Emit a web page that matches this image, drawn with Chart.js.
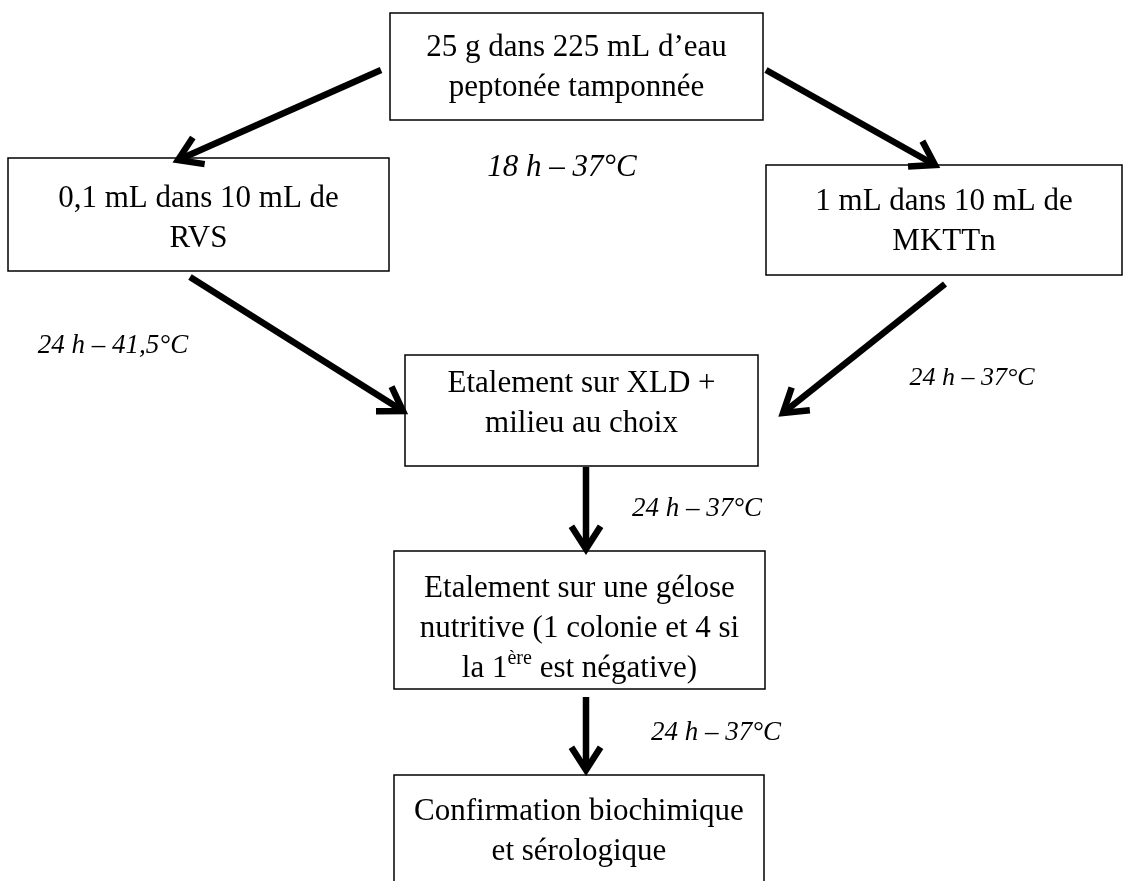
<!DOCTYPE html>
<html>
<head>
<meta charset="utf-8">
<script src="https://cdn.jsdelivr.net/npm/chart.js@4.4.1/dist/chart.umd.min.js"></script>
<style>
html,body{margin:0;padding:0;background:#fff;}
#wrap{width:1129px;height:881px;position:relative;}
</style>
</head>
<body>
<div id="wrap"><canvas id="c"></canvas></div>
<script>
// ---- content ----
const boxLabels = [
  ["25 g dans 225 mL d’eau", "peptonée tamponnée"],
  ["0,1 mL dans 10 mL de", "RVS"],
  ["1 mL dans 10 mL de", "MKTTn"],
  ["Etalement sur XLD +", "milieu au choix"],
  ["Etalement sur une gélose", "nutritive (1 colonie et 4 si", "la 1^ère^ est négative)"],
  ["Confirmation biochimique", "et sérologique"]
];
const stepLabels = ["18 h – 37°C", "24 h – 41,5°C", "24 h – 37°C", "24 h – 37°C", "24 h – 37°C"];

// ---- layout (scale units) ----
const boxLeft   = [390,   8, 766, 405, 394, 394];
const boxRight  = [763, 389, 1122, 758, 765, 764];
const boxTop    = [ 13, 158, 165, 355, 551, 775];
const boxBottom = [120, 271, 275, 466, 689, 890];
const textMidY  = [ 68, 219, 222, 404, 629, 832];

const arrowX0 = [381, 766, 190, 945, 586, 586];
const arrowY0 = [ 70,  70, 277, 284, 467, 697];
const arrowX1 = [178, 935, 403, 783, 586, 586];
const arrowY1 = [160, 165, 411, 413, 549, 770];

const labelX = [562, 113, 972, 697, 716];
const labelY = [168, 346, 378, 509, 733];
const labelSize = [31, 27, 26, 27, 27];

// ---- datasets: arrows drawn by chart as lines ----
const datasets = arrowX0.map((x0, i) => ({
  type: 'line',
  data: [{x: x0, y: arrowY0[i]}, {x: arrowX1[i], y: arrowY1[i]}],
  borderColor: '#000',
  borderWidth: 6.5,
  borderCapStyle: 'butt',
  pointRadius: 0,
  showLine: true,
  fill: false
}));

const flowPlugin = {
  id: 'flow',
  afterDatasetsDraw(chart) {
    const {ctx, scales: {x, y}} = chart;
    ctx.save();
    ctx.strokeStyle = '#000';
    ctx.lineWidth = 1.5;
    ctx.fillStyle = '#000';
    boxLeft.forEach((l, i) => {
      const px0 = x.getPixelForValue(l), px1 = x.getPixelForValue(boxRight[i]);
      const py0 = y.getPixelForValue(boxTop[i]), py1 = y.getPixelForValue(boxBottom[i]);
      ctx.strokeRect(px0, py0, px1 - px0, py1 - py0);
      const cx = (px0 + px1) / 2;
      const lines = boxLabels[i];
      const lh = 40;
      const cy = y.getPixelForValue(textMidY[i]);
      ctx.textBaseline = 'middle';
      lines.forEach((ln, k) => {
        const ly = cy + (k - (lines.length - 1) / 2) * lh;
        const parts = ln.split('^');
        const base = '31px "Liberation Serif", "Times New Roman", serif';
        const sup = '20px "Liberation Serif", "Times New Roman", serif';
        let total = 0;
        parts.forEach((p, j) => { ctx.font = j % 2 ? sup : base; total += ctx.measureText(p).width; });
        let sx = cx - total / 2;
        ctx.textAlign = 'left';
        parts.forEach((p, j) => {
          ctx.font = j % 2 ? sup : base;
          ctx.fillText(p, sx, j % 2 ? ly - 10 : ly);
          sx += ctx.measureText(p).width;
        });
      });
    });
    // arrowheads
    ctx.lineWidth = 6.5;
    ctx.lineCap = 'butt';
    ctx.lineJoin = 'miter';
    arrowX0.forEach((x0, i) => {
      const ax = x.getPixelForValue(arrowX1[i]), ay = y.getPixelForValue(arrowY1[i]);
      const bx = x.getPixelForValue(x0), by = y.getPixelForValue(arrowY0[i]);
      const ang = Math.atan2(ay - by, ax - bx);
      const len = 27, spread = Math.PI / 5.5;
      ctx.beginPath();
      ctx.moveTo(ax - len * Math.cos(ang - spread), ay - len * Math.sin(ang - spread));
      ctx.lineTo(ax, ay);
      ctx.lineTo(ax - len * Math.cos(ang + spread), ay - len * Math.sin(ang + spread));
      ctx.stroke();
    });
    // step labels
    ctx.textAlign = 'center';
    ctx.textBaseline = 'middle';
    stepLabels.forEach((t, i) => {
      ctx.font = 'italic ' + labelSize[i] + 'px "Liberation Serif", "Times New Roman", serif';
      ctx.fillText(t, x.getPixelForValue(labelX[i]), y.getPixelForValue(labelY[i]));
    });
    ctx.restore();
  }
};

new Chart(document.getElementById('c'), {
  type: 'scatter',
  data: { datasets },
  options: {
    responsive: true,
    maintainAspectRatio: false,
    animation: false,
    layout: { padding: 0 },
    plugins: { legend: { display: false }, tooltip: { enabled: false } },
    scales: {
      x: { type: 'linear', min: 0, max: 1129, display: false },
      y: { type: 'linear', min: 0, max: 881, reverse: true, display: false }
    }
  },
  plugins: [flowPlugin]
});
</script>
</body>
</html>
